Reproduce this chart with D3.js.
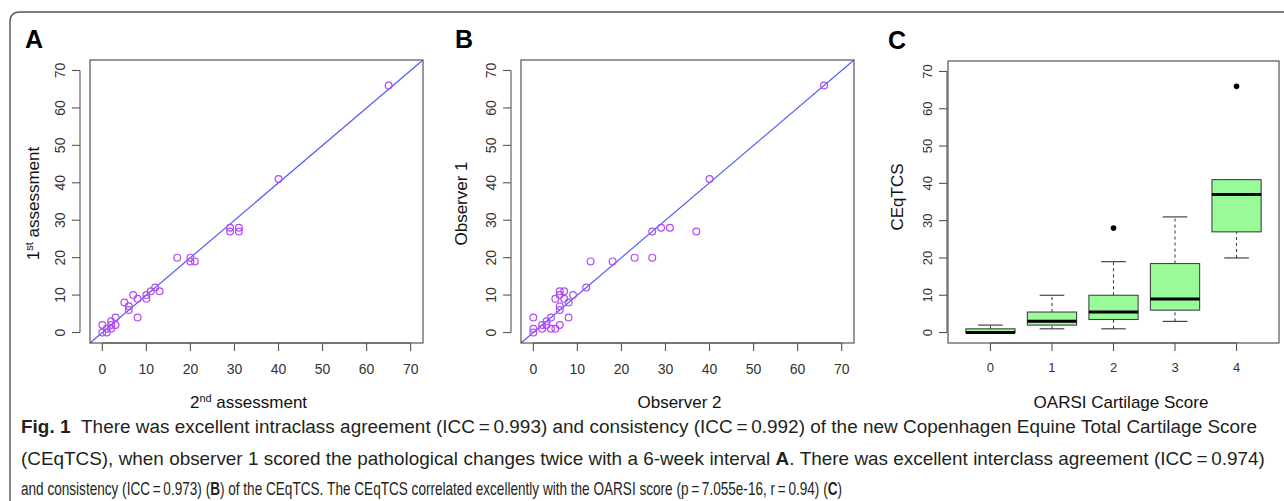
<!DOCTYPE html>
<html>
<head>
<meta charset="utf-8">
<script src="https://cdn.jsdelivr.net/npm/d3@7"></script>
<style>
  html, body { margin: 0; padding: 0; background: #fff; }
  svg { display: block; font-family: "Liberation Sans", Arial, sans-serif; }
  .tick-label { fill: #333; font-size: 14px; }
  .axis-title { fill: #111; font-size: 17px; }
  .panel-letter { fill: #000; font-size: 25px; font-weight: bold; }
  .caption { fill: #231f20; font-size: 18px; font-family: "Liberation Sans", Arial, sans-serif; }
</style>
</head>
<body>
<svg id="fig" width="1284" height="501"></svg>
<script>
// ── Data ──────────────────────────────────────────────────────────────────────

// A: intra-observer (2nd vs 1st assessment)
const assess2 = [65, 40, 29, 29, 31, 31, 17, 20, 20, 21, 13, 12, 11, 10, 10, 8, 7, 5, 6, 6, 8, 3, 3, 2, 0, 0, 1, 2, 2, 1];
const assess1 = [66, 41, 28, 27, 28, 27, 20, 20, 19, 19, 11, 12, 11, 10, 9, 9, 10, 8, 7, 6, 4, 4, 2, 3, 2, 0, 0, 1, 2, 1];

// B: inter-observer (observer 2 vs observer 1)
const observer2 = [66, 40, 27, 29, 31, 37, 27, 23, 18, 13, 12, 9, 8, 8, 7, 6, 6, 7, 5, 6, 6, 6, 5, 4, 4, 3, 3, 2, 2, 0, 0, 0];
const observer1 = [66, 41, 27, 28, 28, 27, 20, 20, 19, 19, 12, 10, 8, 4, 11, 11, 10, 9, 9, 7, 6, 2, 1, 1, 4, 3, 2, 2, 1, 4, 1, 0];

// C: CEqTCS by OARSI score (boxplot stats)
const oarsiGroups = ["0", "1", "2", "3", "4"];
const whiskerLow  = [0, 1, 1, 3, 20];
const q1          = [0, 2, 3.5, 6, 27];
const medians     = [0, 3, 5.5, 9, 37];
const q3          = [1, 5.5, 10, 18.5, 41];
const whiskerHigh = [2, 10, 19, 31, 41];
const outlierGroup = ["2", "4"];
const outlierValue = [28, 66];

const scoreTicks = [0, 10, 20, 30, 40, 50, 60, 70];
const scoreDomain = [-2.8, 72.8];

// caption lines, *...* marks bold runs
const captionText = [
  "*Fig.\u00a01*\u00a0 There was excellent intraclass agreement (ICC\u2009=\u20090.993) and consistency (ICC\u2009=\u20090.992) of the new Copenhagen Equine Total Cartilage Score",
  "(CEqTCS), when observer 1 scored the pathological changes twice with a 6-week interval *A*. There was excellent interclass agreement (ICC\u2009=\u20090.974)",
  "and consistency (ICC\u2009=\u20090.973) (*B*) of the CEqTCS. The CEqTCS correlated excellently with the OARSI score (p\u2009=\u20097.055e-16, r\u2009=\u20090.94) (*C*)"
];

const PURPLE = "#b04cf2";
const BLUE   = "#4d60fb";
const FRAME  = "#555";

const svg = d3.select("#fig");

// ── Helpers ───────────────────────────────────────────────────────────────────

function plotBox(g, x0, x1, y0, y1) {
  g.append("rect")
    .attr("x", x0).attr("y", y0)
    .attr("width", x1 - x0).attr("height", y1 - y0)
    .attr("fill", "none").attr("stroke", FRAME).attr("stroke-width", 1.2);
}

// R-style y axis: line between first and last tick, rotated labels
function yAxisR(g, y, xEdge, ticks, fontSize) {
  g.append("line")
    .attr("x1", xEdge).attr("x2", xEdge)
    .attr("y1", y(ticks[0])).attr("y2", y(ticks[ticks.length - 1]))
    .attr("stroke", FRAME).attr("stroke-width", 1.1);
  ticks.forEach((t) => {
    g.append("line")
      .attr("x1", xEdge).attr("x2", xEdge - 8)
      .attr("y1", y(t)).attr("y2", y(t))
      .attr("stroke", FRAME).attr("stroke-width", 1.1);
    g.append("text")
      .attr("class", "tick-label")
      .attr("transform", `translate(${xEdge - 15},${y(t)}) rotate(-90)`)
      .attr("text-anchor", "middle")
      .style("font-size", fontSize + "px")
      .text(t);
  });
}

function xAxisR(g, x, yEdge, ticks, fontSize, labelY) {
  g.append("line")
    .attr("y1", yEdge).attr("y2", yEdge)
    .attr("x1", x(ticks[0])).attr("x2", x(ticks[ticks.length - 1]))
    .attr("stroke", FRAME).attr("stroke-width", 1.1);
  ticks.forEach((t) => {
    g.append("line")
      .attr("y1", yEdge).attr("y2", yEdge + 8)
      .attr("x1", x(t)).attr("x2", x(t))
      .attr("stroke", FRAME).attr("stroke-width", 1.1);
    g.append("text")
      .attr("class", "tick-label")
      .attr("x", x(t)).attr("y", labelY)
      .attr("text-anchor", "middle")
      .style("font-size", fontSize + "px")
      .text(t);
  });
}

function titleWithSup(g, attrs, base, sup, rest) {
  const t = g.append("text").attr("class", "axis-title").attr("text-anchor", "middle");
  Object.entries(attrs).forEach(([k, v]) => t.attr(k, v));
  t.append("tspan").text(base);
  if (sup) {
    t.append("tspan").attr("dy", -6).style("font-size", "11px").text(sup);
    t.append("tspan").attr("dy", 6).text(rest);
  }
  return t;
}

// ── Outer frame ───────────────────────────────────────────────────────────────

svg.append("path")
  .attr("d", "M10,520 L10,22 Q10,12 20,12 L1300,12")
  .attr("fill", "none").attr("stroke", FRAME).attr("stroke-width", 1.4);

// ── Scatter panels ────────────────────────────────────────────────────────────

function drawScatter({ letter, letterX, left, right, xs, ys, xTitle, xSup, xRest, yTitle, ySup, yRest, yTitleX }) {
  const top = 60, bottom = 343;
  const g = svg.append("g");
  const x = d3.scaleLinear().domain(scoreDomain).range([left, right]);
  const y = d3.scaleLinear().domain(scoreDomain).range([bottom, top]);

  g.append("text").attr("class", "panel-letter").attr("x", letterX).attr("y", 48).text(letter);

  // identity line, clipped to the plot region
  g.append("line")
    .attr("x1", x(scoreDomain[0])).attr("y1", y(scoreDomain[0]))
    .attr("x2", x(scoreDomain[1])).attr("y2", y(scoreDomain[1]))
    .attr("stroke", BLUE).attr("stroke-width", 1.2);

  g.selectAll("circle.pt")
    .data(xs.map((d, i) => [d, ys[i]]))
    .join("circle")
    .attr("class", "pt")
    .attr("cx", (d) => x(d[0])).attr("cy", (d) => y(d[1]))
    .attr("r", 3.4)
    .attr("fill", "none").attr("stroke", PURPLE).attr("stroke-width", 1.2);

  plotBox(g, left, right, top, bottom);
  yAxisR(g, y, left - 10, scoreTicks, 14);
  xAxisR(g, x, bottom, scoreTicks, 14, 374);

  titleWithSup(g, { x: (left + right) / 2 - 8, y: 408 }, xTitle, xSup, xRest);
  titleWithSup(g, { transform: `translate(${yTitleX},${(top + bottom) / 2 + 2}) rotate(-90)` }, yTitle, ySup, yRest);
}

drawScatter({
  letter: "A", letterX: 25, left: 90, right: 423,
  xs: assess2, ys: assess1,
  xTitle: "2", xSup: "nd", xRest: " assessment",
  yTitle: "1", ySup: "st", yRest: " assessment", yTitleX: 39
});

drawScatter({
  letter: "B", letterX: 455, left: 521, right: 854,
  xs: observer2, ys: observer1,
  xTitle: "Observer 2", yTitle: "Observer 1", yTitleX: 467
});

// ── Boxplot panel ─────────────────────────────────────────────────────────────

(function drawBoxplot() {
  const left = 948, right = 1279, top = 61, bottom = 343;
  const g = svg.append("g");
  const x = d3.scalePoint().domain(oarsiGroups).range([left, right]).padding(0.69);
  const y = d3.scaleLinear().domain(scoreDomain).range([bottom, top]);
  const boxW = x.step() * 0.8;

  g.append("text").attr("class", "panel-letter").attr("x", 888).attr("y", 49).text("C");

  oarsiGroups.forEach((grp, i) => {
    const cx = x(grp);
    // whiskers
    [[whiskerLow[i], q1[i]], [q3[i], whiskerHigh[i]]].forEach(([a, b]) => {
      if (a === b) return;
      g.append("line")
        .attr("x1", cx).attr("x2", cx).attr("y1", y(a)).attr("y2", y(b))
        .attr("stroke", "#333").attr("stroke-width", 1).attr("stroke-dasharray", "3,3");
    });
    [whiskerLow[i], whiskerHigh[i]].forEach((v) => {
      g.append("line")
        .attr("x1", cx - boxW / 4).attr("x2", cx + boxW / 4).attr("y1", y(v)).attr("y2", y(v))
        .attr("stroke", "#333").attr("stroke-width", 1.1);
    });
    g.append("rect")
      .attr("x", cx - boxW / 2).attr("y", y(q3[i]))
      .attr("width", boxW).attr("height", y(q1[i]) - y(q3[i]))
      .attr("fill", "#98fb98").attr("stroke", "#444").attr("stroke-width", 1.1);
    g.append("line")
      .attr("x1", cx - boxW / 2).attr("x2", cx + boxW / 2)
      .attr("y1", y(medians[i])).attr("y2", y(medians[i]))
      .attr("stroke", "#000").attr("stroke-width", 3);
  });

  g.selectAll("circle.out")
    .data(outlierGroup.map((d, i) => [d, outlierValue[i]]))
    .join("circle")
    .attr("class", "out")
    .attr("cx", (d) => x(d[0])).attr("cy", (d) => y(d[1]))
    .attr("r", 2.8).attr("fill", "#000");

  plotBox(g, left, right, top, bottom);
  yAxisR(g, y, left - 1, scoreTicks, 13);

  // x axis
  g.append("line")
    .attr("y1", bottom).attr("y2", bottom)
    .attr("x1", x(oarsiGroups[0])).attr("x2", x(oarsiGroups[oarsiGroups.length - 1]))
    .attr("stroke", FRAME).attr("stroke-width", 1.1);
  oarsiGroups.forEach((grp) => {
    g.append("line")
      .attr("x1", x(grp)).attr("x2", x(grp)).attr("y1", bottom).attr("y2", bottom + 8)
      .attr("stroke", FRAME).attr("stroke-width", 1.1);
    g.append("text").attr("class", "tick-label")
      .attr("x", x(grp)).attr("y", 372).attr("text-anchor", "middle")
      .style("font-size", "13px").text(grp);
  });

  g.append("text").attr("class", "axis-title")
    .attr("x", 1121).attr("y", 408).attr("text-anchor", "middle")
    .text("OARSI Cartilage Score");
  g.append("text").attr("class", "axis-title")
    .attr("transform", `translate(903,197) rotate(-90)`).attr("text-anchor", "middle")
    .text("CEqTCS");
})();

// ── Caption ───────────────────────────────────────────────────────────────────
// one text per word; each line is squeezed horizontally to its width in the figure

const captionY = [433, 465, 495];
const captionWidth = [1236, 1244, 821];
const captionLeft = 21;

const probe = svg.append("text").attr("class", "caption").attr("x", -2000).attr("y", -50).text("a");
const aW = probe.node().getComputedTextLength();
probe.text("a a");
const space = probe.node().getComputedTextLength() - 2 * aW;
probe.remove();

captionText.forEach((line, i) => {
  const g = svg.append("g");
  const words = line.split(" ").filter((w) => w.length).map((w) => {
    const t = g.append("text").attr("class", "caption").attr("y", 0).attr("xml:space", "preserve");
    w.split("*").forEach((s, j) => {
      if (s.length) t.append("tspan").style("font-weight", j % 2 ? "bold" : "normal").text(s);
    });
    return { node: t, width: t.node().getComputedTextLength() };
  });
  const natural = d3.sum(words, (d) => d.width) + space * (words.length - 1);
  let xPos = 0;
  words.forEach((w) => {
    w.node.attr("x", xPos);
    xPos += w.width + space;
  });
  g.attr("transform", `translate(${captionLeft},${captionY[i]}) scale(${captionWidth[i] / natural},1)`);
});
</script>
</body>
</html>
